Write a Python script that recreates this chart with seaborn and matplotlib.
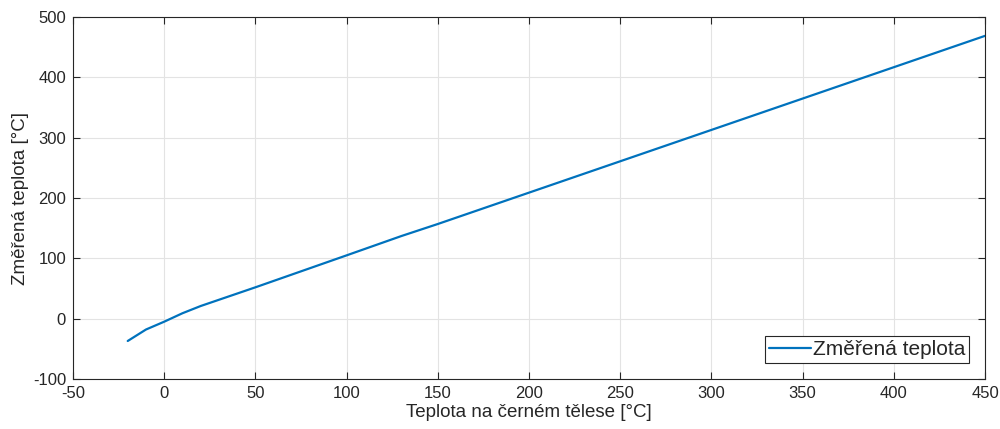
import numpy as np
import pandas as pd
import matplotlib
matplotlib.use("Agg")
import matplotlib.pyplot as plt
import seaborn as sns

blackbody_temp = [-20, -10, 0, 10, 20, 50, 100, 130, 150, 200, 250, 300, 350, 400, 450]
measured_temp = [-37, -18, -5, 9, 21, 52, 105, 137, 157, 209, 261, 313, 365, 417, 469]

df = pd.DataFrame({"Teplota na černém tělese [°C]": blackbody_temp,
                   "Změřená teplota [°C]": measured_temp})

sns.set_theme(style="whitegrid")
plt.rcParams['font.family'] = ['Liberation Sans', 'DejaVu Sans']
plt.rcParams['axes.unicode_minus'] = False

fig = plt.figure(figsize=(10, 4.29), dpi=100)
ax = fig.add_axes([0.073, 0.1166, 0.912, 0.8434])

sns.lineplot(data=df, x="Teplota na černém tělese [°C]", y="Změřená teplota [°C]",
             color="#0072BD", linewidth=1.6, label="Změřená teplota", ax=ax)

ax.set_xlim(-50, 450)
ax.set_ylim(-100, 500)
ax.set_xticks(np.arange(-50, 451, 50))
ax.set_yticks(np.arange(-100, 501, 100))

axis_col = "#262626"
ax.set_facecolor("white")
ax.grid(True, color="#e3e3e3", linewidth=0.8)
for s in ax.spines.values():
    s.set_color(axis_col)
    s.set_linewidth(0.8)
ax.tick_params(direction="in", length=5, width=0.8, colors=axis_col,
               labelsize=12, top=True, right=True, bottom=True, left=True,
               labelcolor=axis_col, pad=5)
ax.set_xlabel("Teplota na černém tělese [°C]", fontsize=13.5, color=axis_col, labelpad=2)
ax.set_ylabel("Změřená teplota [°C]", fontsize=13.5, color=axis_col, labelpad=3)

leg = ax.legend(loc="lower right", fontsize=15, frameon=True, fancybox=False,
                handlelength=2.0, handletextpad=0.1, borderpad=0.2,
                borderaxespad=0.75)
leg.get_frame().set_edgecolor(axis_col)
leg.get_frame().set_linewidth(0.8)
leg.get_frame().set_alpha(1)

fig.savefig("out.png", dpi=100)
